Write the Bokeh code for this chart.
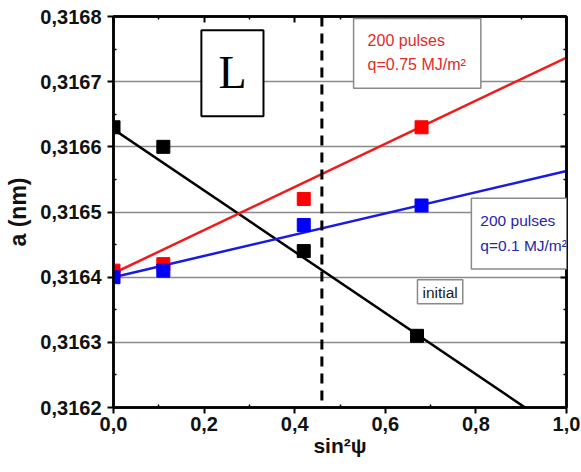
from bokeh.plotting import figure
from bokeh.models import Range1d, FixedTicker, LinearAxis, Span, Label
from bokeh.embed import file_html
from bokeh.resources import INLINE

# ---- data ----
x_initial = [0.0, 0.11, 0.42, 0.67]
a_initial = [0.31663, 0.31660, 0.31644, 0.31631]
x_pulses = [0.0, 0.11, 0.42, 0.68]
a_q075 = [0.31641, 0.31642, 0.31652, 0.31663]
a_q01 = [0.31640, 0.31641, 0.31648, 0.31651]

fit_x = [0.0, 1.0]
fit_initial = [0.316627, 0.316157]
fit_q075 = [0.316406, 0.316737]
fit_q01 = [0.316400, 0.316563]

dash_x = 0.46

x_ticks = [0.0, 0.2, 0.4, 0.6, 0.8, 1.0]
x_tick_labels = ["0,0", "0,2", "0,4", "0,6", "0,8", "1,0"]
x_minor = [0.1, 0.3, 0.5, 0.7, 0.9]
y_ticks = [0.3162, 0.3163, 0.3164, 0.3165, 0.3166, 0.3167, 0.3168]
y_tick_labels = ["0,3162", "0,3163", "0,3164", "0,3165", "0,3166", "0,3167", "0,3168"]
y_minor = [0.31625, 0.31635, 0.31645, 0.31655, 0.31665, 0.31675]

FONT = "Liberation Sans"

p = figure(width=581, height=472, output_backend="svg", toolbar_location=None,
           x_range=Range1d(0, 1), y_range=Range1d(0.3162, 0.3168),
           min_border_left=113, min_border_right=15, min_border_top=16, min_border_bottom=65)
p.outline_line_color = "black"
p.outline_line_width = 2.5
p.background_fill_color = "white"
p.border_fill_color = "white"

p.xgrid.visible = False
p.ygrid.ticker = FixedTicker(ticks=y_ticks[1:-1])
p.ygrid.grid_line_color = "#8a8a8a"
p.ygrid.grid_line_width = 1.5

def style_axis(ax, ticks, labels, minor):
    ax.ticker = FixedTicker(ticks=ticks, minor_ticks=minor)
    ax.major_label_overrides = {t: l for t, l in zip(ticks, labels)}
    ax.axis_line_width = 2.5
    ax.axis_line_color = "black"
    ax.major_tick_line_width = 2
    ax.major_tick_out = 6
    ax.major_tick_in = 0
    ax.minor_tick_line_width = 1.5
    ax.minor_tick_in = 3
    ax.minor_tick_out = 0
    ax.major_label_text_font = FONT
    ax.major_label_text_font_style = "bold"
    ax.major_label_text_font_size = "20px"
    ax.major_label_text_color = "#111111"
    ax.axis_label_text_font = FONT
    ax.axis_label_text_font_style = "bold"
    ax.axis_label_text_color = "#111111"

style_axis(p.xaxis[0], x_ticks, x_tick_labels, x_minor)
p.xaxis[0].axis_label = "sin²ψ"
p.xaxis[0].axis_label_text_font_size = "21px"
p.xaxis[0].major_label_standoff = 3
p.xaxis[0].axis_label_standoff = 0

style_axis(p.yaxis[0], y_ticks, y_tick_labels, y_minor)
p.yaxis[0].axis_label = "a (nm)"
p.yaxis[0].axis_label_text_font_size = "23px"
p.yaxis[0].major_label_standoff = 6
p.yaxis[0].axis_label_standoff = 6

# frame axes on top and right (ticks inward, labels hidden)
top = LinearAxis(ticker=FixedTicker(ticks=x_ticks, minor_ticks=x_minor))
right = LinearAxis(ticker=FixedTicker(ticks=y_ticks, minor_ticks=y_minor))
for ax, ticks in ((top, x_ticks), (right, y_ticks)):
    ax.major_label_overrides = {t: "" for t in ticks}
    ax.major_label_text_font_size = "1px"
    ax.major_label_text_color = None
    ax.major_label_standoff = 0
    ax.major_tick_in = 6
    ax.major_tick_out = 0
    ax.minor_tick_in = 3
    ax.minor_tick_out = 0
    ax.axis_line_width = 2.5
    ax.major_tick_line_width = 2
    ax.minor_tick_line_width = 1.5
p.add_layout(top, "above")
p.add_layout(right, "right")

# dashed vertical line
p.add_layout(Span(location=dash_x, dimension="height", line_color="black",
                  line_width=3, line_dash="10 7"))

# fit lines
p.line(fit_x, fit_initial, line_color="black", line_width=2.5)
p.line(fit_x, fit_q075, line_color="#ee1c1c", line_width=2.5)
p.line(fit_x, fit_q01, line_color="#1a1ae0", line_width=2.5)

# data points
p.scatter(x_initial, a_initial, marker="square", size=13, fill_color="black", line_color="black")
p.scatter(x_pulses, a_q075, marker="square", size=13, fill_color="#ff0000", line_color="#ff0000")
p.scatter(x_pulses, a_q01, marker="square", size=13, fill_color="#0000ff", line_color="#0000ff")

# annotations
p.add_layout(Label(x=0.194, y=0.316779, text="L", anchor="top_left",
                   text_font="Liberation Serif", text_font_size="46px", text_color="black",
                   background_fill_color="white", border_line_color="black", border_line_width=2,
                   padding=dict(left=17, right=17, top=17, bottom=18)))

p.add_layout(Label(x=0.530, y=0.316797, text="200 pulses\nq=0.75 MJ/m²", anchor="top_left",
                   text_font=FONT, text_font_size="16px", text_color="#e02b2b",
                   text_line_height=1.4,
                   background_fill_color="white", border_line_color="#8a8a8a", border_line_width=1.5,
                   padding=dict(left=14, right=15, top=14, bottom=15)))

p.add_layout(Label(x=0.790, y=0.316521, text="200 pulses\nq=0.1 MJ/m²", anchor="top_left",
                   text_font=FONT, text_font_size="15.5px", text_color="#2626a8",
                   text_line_height=1.45,
                   background_fill_color="white", border_line_color="#8a8a8a", border_line_width=1.5,
                   padding=dict(left=9, right=6, top=14, bottom=15)))

p.add_layout(Label(x=0.671, y=0.316396, text="initial", anchor="top_left",
                   text_font=FONT, text_font_size="15.5px", text_color="#222222",
                   background_fill_color="white", border_line_color="#8a8a8a", border_line_width=1.5,
                   padding=dict(left=5, right=5, top=4, bottom=3)))

open("out.html", "w").write(file_html(p, INLINE))
